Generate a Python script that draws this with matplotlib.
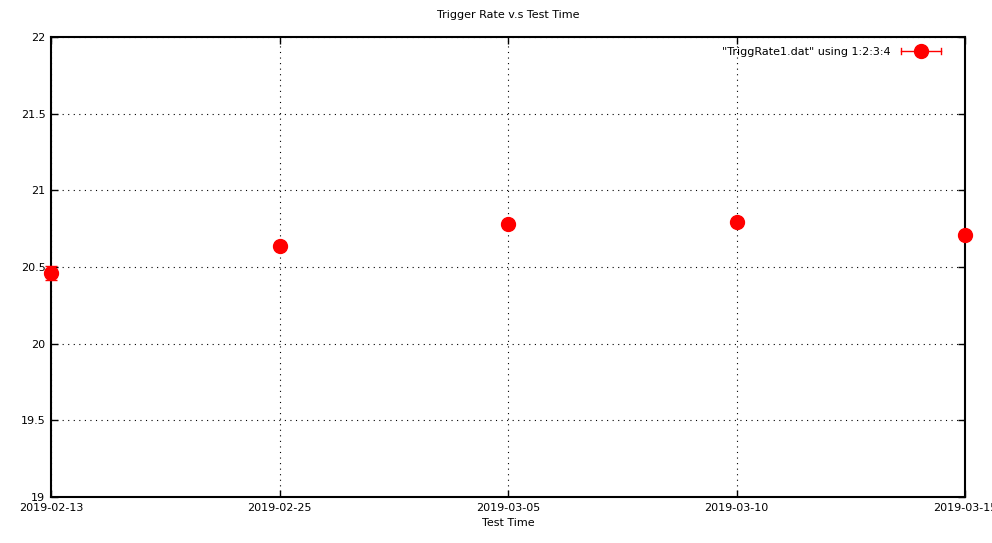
import matplotlib
matplotlib.use("Agg")
import matplotlib.pyplot as plt
from matplotlib.lines import Line2D
from matplotlib.legend_handler import HandlerBase

dates = ["2019-02-13", "2019-02-25", "2019-03-05", "2019-03-10", "2019-03-15"]
rates = [20.46, 20.64, 20.78, 20.795, 20.71]
errors = [0.045, 0.015, 0.015, 0.015, 0.015]
yticks = [19, 19.5, 20, 20.5, 21, 21.5, 22]

RED = '#ff0000'


class GnuErrHandler(HandlerBase):
    def create_artists(self, legend, orig_handle, xdescent, ydescent,
                       width, height, fontsize, trans):
        yc = height / 2.0 - ydescent
        x0, x1 = -xdescent, width - xdescent
        cap = height * 0.35
        line = Line2D([x0, x1], [yc, yc], color=RED, linewidth=1, transform=trans)
        c0 = Line2D([x0, x0], [yc - cap, yc + cap], color=RED, linewidth=1, transform=trans)
        c1 = Line2D([x1, x1], [yc - cap, yc + cap], color=RED, linewidth=1, transform=trans)
        mk = Line2D([(x0 + x1) / 2], [yc], color=RED, marker='o', markersize=10,
                    linestyle='none', transform=trans)
        return [line, c0, c1, mk]


plt.rcParams['font.family'] = ['DejaVu Sans']
fig = plt.figure(figsize=(9.92, 5.43), dpi=100)
ax = fig.add_axes([51/992, 46/543, 914/992, 460/543])

x = list(range(len(dates)))
eb = ax.errorbar(x, rates, yerr=errors, fmt='o', color=RED, ecolor=RED,
                 markersize=10, capsize=4, elinewidth=1, clip_on=False, zorder=5)

ax.set_xlim(0, len(dates) - 1)
ax.set_ylim(19, 22)
ax.set_xticks(x)
ax.set_xticklabels(dates)
ax.set_yticks(yticks)
ax.set_yticklabels([("%g" % v) for v in yticks])
ax.grid(True, linestyle=(0, (1, 4)), color='black', linewidth=0.8)
ax.tick_params(direction='in', top=True, right=True, length=5, width=1, labelsize=8, pad=4)
for s in ax.spines.values():
    s.set_linewidth(1.5)

ax.set_title('Trigger Rate v.s Test Time', fontsize=8, pad=14)
ax.set_xlabel('Test Time', fontsize=8, labelpad=4)

proxy = Line2D([0], [0], color=RED)
leg = ax.legend([proxy], ['"TriggRate1.dat" using 1:2:3:4'], loc='upper right',
                frameon=False, fontsize=8, markerfirst=False, handlelength=3.6,
                handletextpad=1.0, borderaxespad=0.5, bbox_to_anchor=(0.985, 1.0),
                handler_map={Line2D: GnuErrHandler()})

fig.savefig('out.png', dpi=100)
